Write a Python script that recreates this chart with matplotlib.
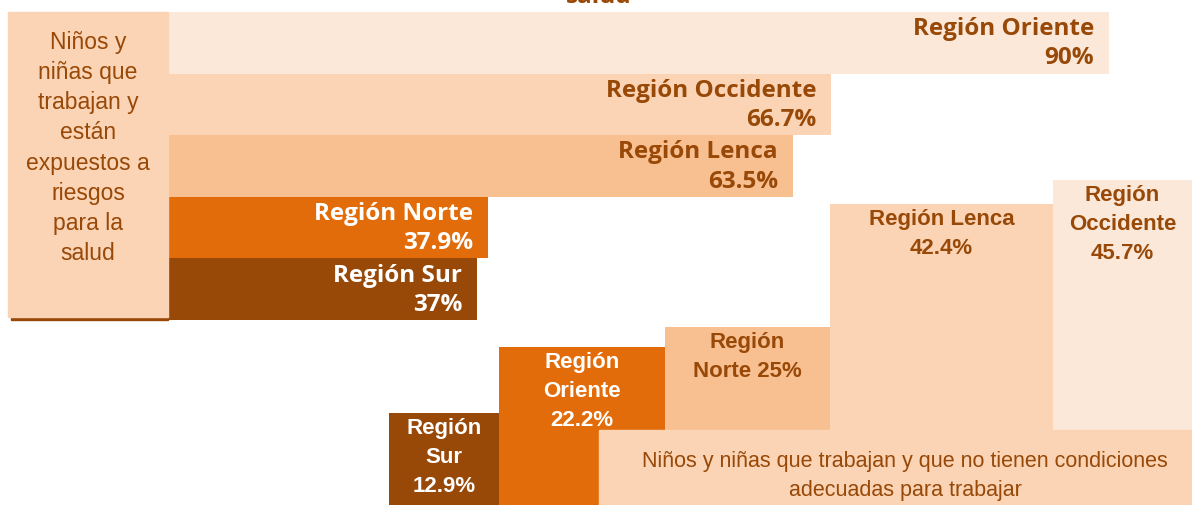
import matplotlib
matplotlib.use("Agg")
import matplotlib.pyplot as plt
from matplotlib.patches import Rectangle

# --- data -------------------------------------------------------------
# Niños y niñas que trabajan y están expuestos a riesgos para la salud
riesgo_regiones = ["Región Oriente", "Región Occidente", "Región Lenca",
                   "Región Norte", "Región Sur"]
riesgo_valores = [90, 66.7, 63.5, 37.9, 37]
riesgo_textos = ["90%", "66.7%", "63.5%", "37.9%", "37%"]

# Niños y niñas que trabajan y que no tienen condiciones adecuadas
condic_regiones = ["Región\nSur", "Región\nOriente", "Región\nNorte",
                   "Región Lenca", "Región\nOccidente"]
condic_valores = [12.9, 22.2, 25, 42.4, 45.7]
condic_textos = ["12.9%", "22.2%", "25%", "42.4%", "45.7%"]

titulo_fin = "salud"
texto_riesgo = "Niños y\nniñas que\ntrabajan y\nestán\nexpuestos a\nriesgos\npara la\nsalud"
texto_condic = ("Niños y niñas que trabajan y que no tienen condiciones\n"
                "adecuadas para trabajar")

# --- style ------------------------------------------------------------
BROWN = "#984807"
ORANGE = "#E36C0A"
PEACH1 = "#FCE8D9"
PEACH2 = "#FAD4B5"
PEACH3 = "#F8BF90"

top_colors = [PEACH1, PEACH2, PEACH3, ORANGE, BROWN]
top_text = [BROWN, BROWN, BROWN, "white", "white"]
bot_colors = [BROWN, ORANGE, PEACH3, PEACH2, PEACH1]
bot_text = ["white", "white", BROWN, BROWN, BROWN]

BOLD_FONT = ["Open Sans", "DejaVu Sans"]
NARROW_FONT = ["Liberation Sans Narrow", "Liberation Sans", "DejaVu Sans"]

W, H = 1192, 506
fig = plt.figure(figsize=(W / 100, H / 100), dpi=100)
fig.patch.set_facecolor("white")


def fx(x):
    return x / W


def fy(y):
    return 1 - y / H


# --- upper block: horizontal bars -------------------------------------
ax1 = fig.add_axes([fx(36), fy(321), (W - 36) / W, (321 - 13) / H])
ax1.set_xlim(0, (W - 36) / 11.92)
ax1.set_ylim(len(riesgo_valores) - 0.5, -0.5)
ax1.axis("off")
ax1.patch.set_alpha(0)
ypos = list(range(len(riesgo_valores)))
ax1.barh(ypos, riesgo_valores, height=1.0, color=top_colors, linewidth=0)
for i, (reg, val, txt) in enumerate(zip(riesgo_regiones, riesgo_valores, riesgo_textos)):
    ax1.annotate(f"{reg}\n{txt}", xy=(val, i), xytext=(-15, 0),
                 textcoords="offset pixels", ha="right", va="center",
                 multialignment="right", color=top_text[i], fontsize=17.5,
                 fontweight="bold", family=BOLD_FONT, linespacing=1.3)

# --- lower block: vertical steps --------------------------------------
edges = [389, 499, 665, 830, 1053, 1192]
ax2 = fig.add_axes([fx(389), 0, (W - 389) / W, (H - 170) / H])
ax2.set_xlim(389, W)
ax2.set_ylim(0, (H - 170) / 7.11)
ax2.axis("off")
ax2.patch.set_alpha(0)
lefts = edges[:-1]
widths = [b - a for a, b in zip(edges[:-1], edges[1:])]
ax2.bar(lefts, condic_valores, width=widths, align="edge",
        color=bot_colors, linewidth=0)
for i, (reg, val, txt) in enumerate(zip(condic_regiones, condic_valores, condic_textos)):
    label = f"{reg} {txt}" if reg == "Región\nNorte" else f"{reg}\n{txt}"
    ax2.annotate(label, xy=(lefts[i] + widths[i] / 2, val), xytext=(0, -4),
                 textcoords="offset pixels", ha="center", va="top",
                 color=bot_text[i], fontsize=16, fontweight="bold",
                 family=NARROW_FONT, linespacing=1.5)

# --- label boxes ------------------------------------------------------
fig.add_artist(Rectangle((fx(11), fy(321)), (168 - 11) / W, 4 / H,
                         transform=fig.transFigure, color=BROWN, zorder=4))
fig.add_artist(Rectangle((fx(8), fy(318)), 160 / W, (318 - 13) / H,
                         transform=fig.transFigure, color=PEACH2, zorder=5))
fig.text(fx(88), fy(148), texto_riesgo, ha="center", va="center",
         color=BROWN, fontsize=16.5, family=NARROW_FONT, linespacing=1.4,
         zorder=6)

fig.add_artist(Rectangle((fx(599), 0), (W - 599) / W, (H - 431) / H,
                         transform=fig.transFigure, color=PEACH2, zorder=5))
fig.text(fx(905), fy(476), texto_condic, ha="center", va="center",
         color=BROWN, fontsize=15.5, family=NARROW_FONT, linespacing=1.45,
         zorder=6)

fig.text(fx(599), fy(3), titulo_fin, ha="center", va="baseline",
         color=BROWN, fontsize=17.5, fontweight="bold", family=BOLD_FONT,
         zorder=6)

fig.savefig("out.png", dpi=100)
